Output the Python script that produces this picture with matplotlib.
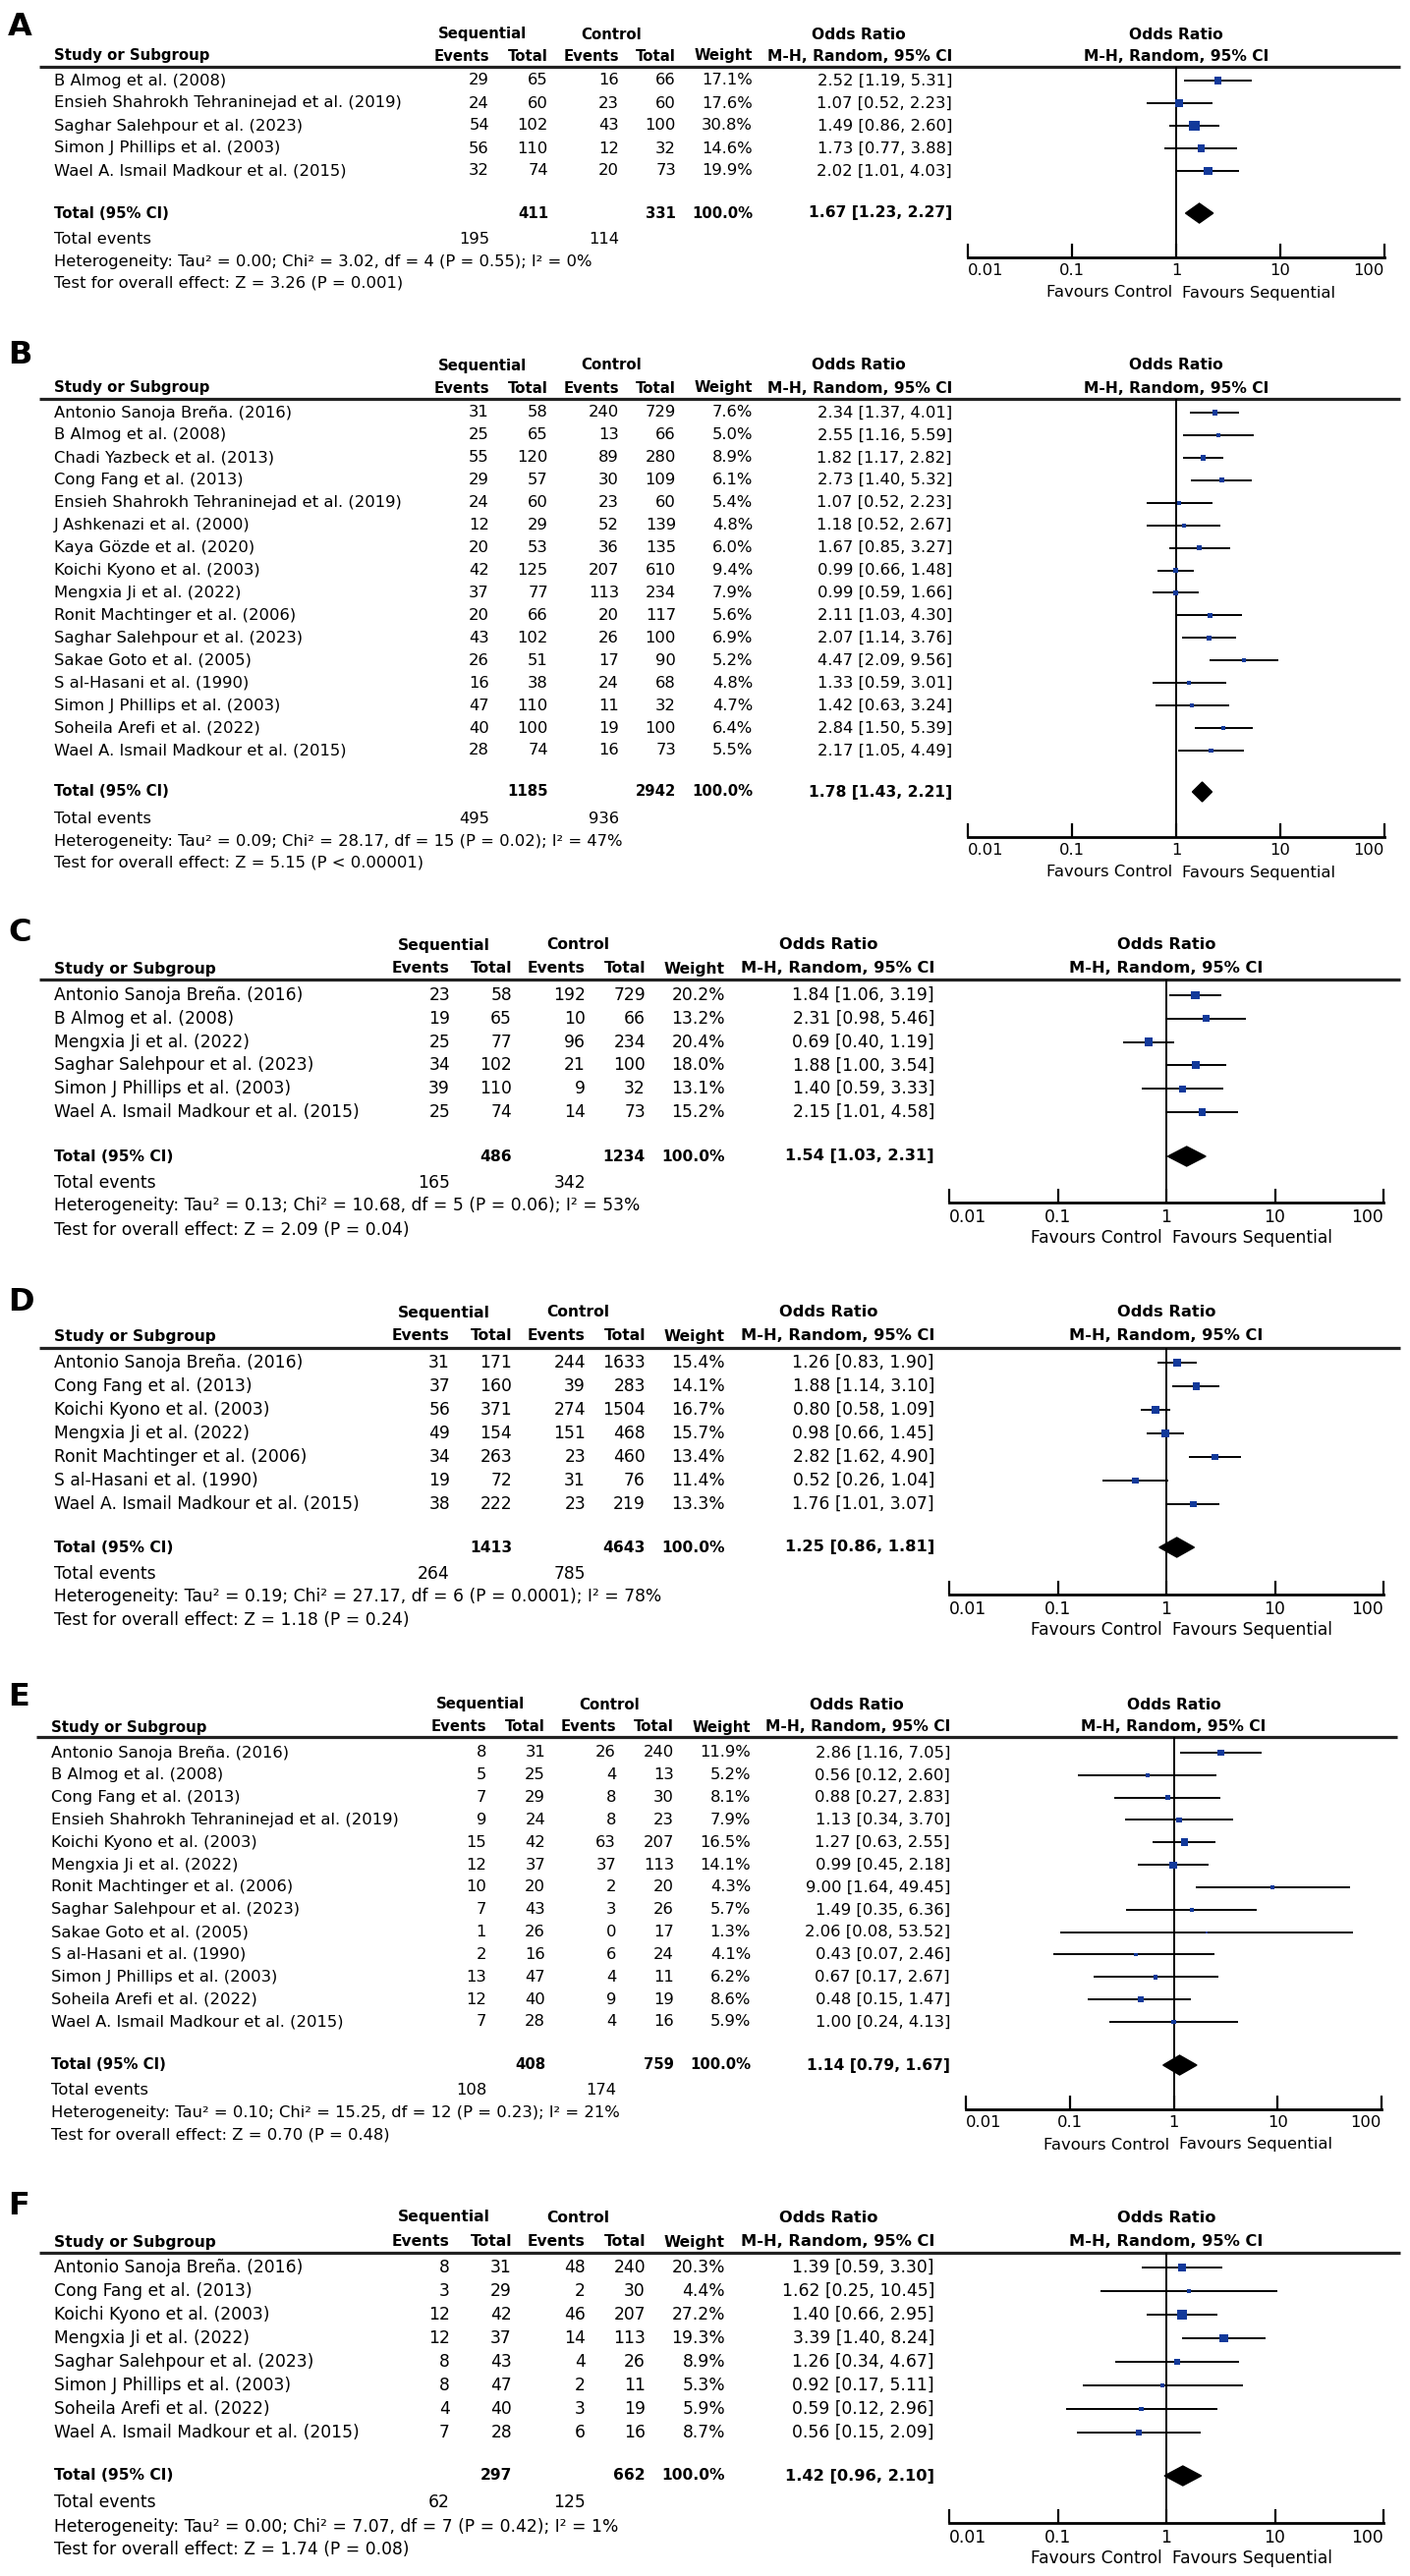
import numpy as np
import matplotlib
matplotlib.use("Agg")
import matplotlib.pyplot as plt
from matplotlib.ticker import NullLocator

W, H = 1435, 2622
BLUE = "#12399a"

# ---------------- data ----------------
A_STUDY = ["B Almog et al. (2008)", "Ensieh Shahrokh Tehraninejad et al. (2019)",
           "Saghar Salehpour et al. (2023)", "Simon J Phillips et al. (2003)",
           "Wael A. Ismail Madkour et al. (2015)"]
A_SEQ_EV = [29, 24, 54, 56, 32]
A_SEQ_N = [65, 60, 102, 110, 74]
A_CTL_EV = [16, 23, 43, 12, 20]
A_CTL_N = [66, 60, 100, 32, 73]
A_WEIGHT = [17.1, 17.6, 30.8, 14.6, 19.9]
A_OR = [2.52, 1.07, 1.49, 1.73, 2.02]
A_LO = [1.19, 0.52, 0.86, 0.77, 1.01]
A_HI = [5.31, 2.23, 2.60, 3.88, 4.03]
A_TOTAL = [411, 331, 1.67, 1.23, 2.27, 195, 114]
A_HET = "Heterogeneity: Tau² = 0.00; Chi² = 3.02, df = 4 (P = 0.55); I² = 0%"
A_TEST = "Test for overall effect: Z = 3.26 (P = 0.001)"

B_STUDY = ["Antonio Sanoja Breña. (2016)", "B Almog et al. (2008)", "Chadi Yazbeck et al. (2013)",
           "Cong Fang et al. (2013)", "Ensieh Shahrokh Tehraninejad et al. (2019)",
           "J Ashkenazi et al. (2000)", "Kaya Gözde et al. (2020)", "Koichi Kyono et al. (2003)",
           "Mengxia Ji et al. (2022)", "Ronit Machtinger et al. (2006)",
           "Saghar Salehpour et al. (2023)", "Sakae Goto et al. (2005)", "S al-Hasani et al. (1990)",
           "Simon J Phillips et al. (2003)", "Soheila Arefi et al. (2022)",
           "Wael A. Ismail Madkour et al. (2015)"]
B_SEQ_EV = [31, 25, 55, 29, 24, 12, 20, 42, 37, 20, 43, 26, 16, 47, 40, 28]
B_SEQ_N = [58, 65, 120, 57, 60, 29, 53, 125, 77, 66, 102, 51, 38, 110, 100, 74]
B_CTL_EV = [240, 13, 89, 30, 23, 52, 36, 207, 113, 20, 26, 17, 24, 11, 19, 16]
B_CTL_N = [729, 66, 280, 109, 60, 139, 135, 610, 234, 117, 100, 90, 68, 32, 100, 73]
B_WEIGHT = [7.6, 5.0, 8.9, 6.1, 5.4, 4.8, 6.0, 9.4, 7.9, 5.6, 6.9, 5.2, 4.8, 4.7, 6.4, 5.5]
B_OR = [2.34, 2.55, 1.82, 2.73, 1.07, 1.18, 1.67, 0.99, 0.99, 2.11, 2.07, 4.47, 1.33, 1.42, 2.84, 2.17]
B_LO = [1.37, 1.16, 1.17, 1.40, 0.52, 0.52, 0.85, 0.66, 0.59, 1.03, 1.14, 2.09, 0.59, 0.63, 1.50, 1.05]
B_HI = [4.01, 5.59, 2.82, 5.32, 2.23, 2.67, 3.27, 1.48, 1.66, 4.30, 3.76, 9.56, 3.01, 3.24, 5.39, 4.49]
B_TOTAL = [1185, 2942, 1.78, 1.43, 2.21, 495, 936]
B_HET = "Heterogeneity: Tau² = 0.09; Chi² = 28.17, df = 15 (P = 0.02); I² = 47%"
B_TEST = "Test for overall effect: Z = 5.15 (P < 0.00001)"

C_STUDY = ["Antonio Sanoja Breña. (2016)", "B Almog et al. (2008)", "Mengxia Ji et al. (2022)",
           "Saghar Salehpour et al. (2023)", "Simon J Phillips et al. (2003)",
           "Wael A. Ismail Madkour et al. (2015)"]
C_SEQ_EV = [23, 19, 25, 34, 39, 25]
C_SEQ_N = [58, 65, 77, 102, 110, 74]
C_CTL_EV = [192, 10, 96, 21, 9, 14]
C_CTL_N = [729, 66, 234, 100, 32, 73]
C_WEIGHT = [20.2, 13.2, 20.4, 18.0, 13.1, 15.2]
C_OR = [1.84, 2.31, 0.69, 1.88, 1.40, 2.15]
C_LO = [1.06, 0.98, 0.40, 1.00, 0.59, 1.01]
C_HI = [3.19, 5.46, 1.19, 3.54, 3.33, 4.58]
C_TOTAL = [486, 1234, 1.54, 1.03, 2.31, 165, 342]
C_HET = "Heterogeneity: Tau² = 0.13; Chi² = 10.68, df = 5 (P = 0.06); I² = 53%"
C_TEST = "Test for overall effect: Z = 2.09 (P = 0.04)"

D_STUDY = ["Antonio Sanoja Breña. (2016)", "Cong Fang et al. (2013)", "Koichi Kyono et al. (2003)",
           "Mengxia Ji et al. (2022)", "Ronit Machtinger et al. (2006)", "S al-Hasani et al. (1990)",
           "Wael A. Ismail Madkour et al. (2015)"]
D_SEQ_EV = [31, 37, 56, 49, 34, 19, 38]
D_SEQ_N = [171, 160, 371, 154, 263, 72, 222]
D_CTL_EV = [244, 39, 274, 151, 23, 31, 23]
D_CTL_N = [1633, 283, 1504, 468, 460, 76, 219]
D_WEIGHT = [15.4, 14.1, 16.7, 15.7, 13.4, 11.4, 13.3]
D_OR = [1.26, 1.88, 0.80, 0.98, 2.82, 0.52, 1.76]
D_LO = [0.83, 1.14, 0.58, 0.66, 1.62, 0.26, 1.01]
D_HI = [1.90, 3.10, 1.09, 1.45, 4.90, 1.04, 3.07]
D_TOTAL = [1413, 4643, 1.25, 0.86, 1.81, 264, 785]
D_HET = "Heterogeneity: Tau² = 0.19; Chi² = 27.17, df = 6 (P = 0.0001); I² = 78%"
D_TEST = "Test for overall effect: Z = 1.18 (P = 0.24)"

E_STUDY = ["Antonio Sanoja Breña. (2016)", "B Almog et al. (2008)", "Cong Fang et al. (2013)",
           "Ensieh Shahrokh Tehraninejad et al. (2019)", "Koichi Kyono et al. (2003)",
           "Mengxia Ji et al. (2022)", "Ronit Machtinger et al. (2006)",
           "Saghar Salehpour et al. (2023)", "Sakae Goto et al. (2005)", "S al-Hasani et al. (1990)",
           "Simon J Phillips et al. (2003)", "Soheila Arefi et al. (2022)",
           "Wael A. Ismail Madkour et al. (2015)"]
E_SEQ_EV = [8, 5, 7, 9, 15, 12, 10, 7, 1, 2, 13, 12, 7]
E_SEQ_N = [31, 25, 29, 24, 42, 37, 20, 43, 26, 16, 47, 40, 28]
E_CTL_EV = [26, 4, 8, 8, 63, 37, 2, 3, 0, 6, 4, 9, 4]
E_CTL_N = [240, 13, 30, 23, 207, 113, 20, 26, 17, 24, 11, 19, 16]
E_WEIGHT = [11.9, 5.2, 8.1, 7.9, 16.5, 14.1, 4.3, 5.7, 1.3, 4.1, 6.2, 8.6, 5.9]
E_OR = [2.86, 0.56, 0.88, 1.13, 1.27, 0.99, 9.00, 1.49, 2.06, 0.43, 0.67, 0.48, 1.00]
E_LO = [1.16, 0.12, 0.27, 0.34, 0.63, 0.45, 1.64, 0.35, 0.08, 0.07, 0.17, 0.15, 0.24]
E_HI = [7.05, 2.60, 2.83, 3.70, 2.55, 2.18, 49.45, 6.36, 53.52, 2.46, 2.67, 1.47, 4.13]
E_TOTAL = [408, 759, 1.14, 0.79, 1.67, 108, 174]
E_HET = "Heterogeneity: Tau² = 0.10; Chi² = 15.25, df = 12 (P = 0.23); I² = 21%"
E_TEST = "Test for overall effect: Z = 0.70 (P = 0.48)"

F_STUDY = ["Antonio Sanoja Breña. (2016)", "Cong Fang et al. (2013)", "Koichi Kyono et al. (2003)",
           "Mengxia Ji et al. (2022)", "Saghar Salehpour et al. (2023)",
           "Simon J Phillips et al. (2003)", "Soheila Arefi et al. (2022)",
           "Wael A. Ismail Madkour et al. (2015)"]
F_SEQ_EV = [8, 3, 12, 12, 8, 8, 4, 7]
F_SEQ_N = [31, 29, 42, 37, 43, 47, 40, 28]
F_CTL_EV = [48, 2, 46, 14, 4, 2, 3, 6]
F_CTL_N = [240, 30, 207, 113, 26, 11, 19, 16]
F_WEIGHT = [20.3, 4.4, 27.2, 19.3, 8.9, 5.3, 5.9, 8.7]
F_OR = [1.39, 1.62, 1.40, 3.39, 1.26, 0.92, 0.59, 0.56]
F_LO = [0.59, 0.25, 0.66, 1.40, 0.34, 0.17, 0.12, 0.15]
F_HI = [3.30, 10.45, 2.95, 8.24, 4.67, 5.11, 2.96, 2.09]
F_TOTAL = [297, 662, 1.42, 0.96, 2.10, 62, 125]
F_HET = "Heterogeneity: Tau² = 0.00; Chi² = 7.07, df = 7 (P = 0.42); I² = 1%"
F_TEST = "Test for overall effect: Z = 1.74 (P = 0.08)"

TICKS = [0.01, 0.1, 1, 10, 100]
TICK_LABELS = ["0.01", "0.1", "1", "10", "100"]

# ---------------- layout (pixels) ----------------
COLS_AB = dict(study=55, seq_ev=498, seq_n=558, ctl_ev=630, ctl_n=688, w=766, or_r=969,
               seq_hdr=491, ctl_hdr=622, or_hdr=874, fx=(985, 1409), line=(40, 1425))
COLS_E = dict(study=52, seq_ev=495, seq_n=555, ctl_ev=627, ctl_n=686, w=764, or_r=967,
              seq_hdr=489, ctl_hdr=620, or_hdr=872, fx=(983, 1406), line=(37, 1422))
COLS_CDF = dict(study=55, seq_ev=458, seq_n=521, ctl_ev=596, ctl_n=657, w=738, or_r=951,
                seq_hdr=452, ctl_hdr=588, or_hdr=843, fx=(966, 1408), line=(40, 1425))


def rows(label, h1, h2, line, r0, rs, tot, tev, het, test, axis, fs):
    return dict(label=label, h1=h1, h2=h2, line=line, r0=r0, rs=rs, tot=tot, tev=tev,
                het=het, test=test, axis=axis, fs=fs)


PANELS = [
    ("A", COLS_AB, rows(27, 35, 57, 68, 82, 23.0, 217, 243, 266, 288, 262, 11.8),
     A_STUDY, A_SEQ_EV, A_SEQ_N, A_CTL_EV, A_CTL_N, A_WEIGHT, A_OR, A_LO, A_HI, A_TOTAL, A_HET, A_TEST),
    ("B", COLS_AB, rows(361, 372, 395, 406, 420, 22.93, 806, 833, 856, 878, 852, 11.8),
     B_STUDY, B_SEQ_EV, B_SEQ_N, B_CTL_EV, B_CTL_N, B_WEIGHT, B_OR, B_LO, B_HI, B_TOTAL, B_HET, B_TEST),
    ("C", COLS_CDF, rows(950, 962, 986, 997, 1013, 23.8, 1177, 1204, 1227, 1252, 1224, 12.3),
     C_STUDY, C_SEQ_EV, C_SEQ_N, C_CTL_EV, C_CTL_N, C_WEIGHT, C_OR, C_LO, C_HI, C_TOTAL, C_HET, C_TEST),
    ("D", COLS_CDF, rows(1325, 1336, 1360, 1372, 1387, 24.0, 1575, 1602, 1625, 1649, 1623, 12.3),
     D_STUDY, D_SEQ_EV, D_SEQ_N, D_CTL_EV, D_CTL_N, D_WEIGHT, D_OR, D_LO, D_HI, D_TOTAL, D_HET, D_TEST),
    ("E", COLS_E, rows(1728, 1735, 1758, 1768, 1784, 22.83, 2102, 2128, 2151, 2173, 2147, 11.8),
     E_STUDY, E_SEQ_EV, E_SEQ_N, E_CTL_EV, E_CTL_N, E_WEIGHT, E_OR, E_LO, E_HI, E_TOTAL, E_HET, E_TEST),
    ("F", COLS_CDF, rows(2246, 2257, 2282, 2293, 2308, 24.0, 2520, 2547, 2572, 2595, 2568, 12.3),
     F_STUDY, F_SEQ_EV, F_SEQ_N, F_CTL_EV, F_CTL_N, F_WEIGHT, F_OR, F_LO, F_HI, F_TOTAL, F_HET, F_TEST),
]


def draw_panel(fig, cv, letter, c, r, study, sev, sn, cev, cn, wt, orr, lo, hi, tot, het, test):
    fs = r["fs"]
    kw = dict(fontsize=fs, va="center")
    # bold text in the reference is set narrower than the body text
    kb = dict(fontsize=fs - 1.1, va="center", fontweight="bold")
    ko = dict(fontsize=fs - 0.6, va="center", fontweight="bold")

    cv.text(8, r["label"], letter, fontsize=23, fontweight="bold", va="center", ha="left")

    # header rows
    cv.text(c["seq_hdr"], r["h1"], "Sequential", ha="center", **kb)
    cv.text(c["ctl_hdr"], r["h1"], "Control", ha="center", **kb)
    cv.text(c["or_hdr"], r["h1"], "Odds Ratio", ha="center", **ko)
    x0, x1 = c["fx"]
    xone = (x0 + x1) / 2
    cv.text(xone, r["h1"], "Odds Ratio", ha="center", **ko)
    cv.text(c["study"], r["h2"], "Study or Subgroup", ha="left", **kb)
    for key, name in [("seq_ev", "Events"), ("seq_n", "Total"), ("ctl_ev", "Events"),
                      ("ctl_n", "Total"), ("w", "Weight")]:
        cv.text(c[key], r["h2"], name, ha="right", **kb)
    cv.text(c["or_r"], r["h2"], "M-H, Random, 95% CI", ha="right", **ko)
    cv.text(xone, r["h2"], "M-H, Random, 95% CI", ha="center", **ko)
    cv.plot(c["line"], [r["line"], r["line"]], color="#222222", lw=2.3, solid_capstyle="butt")

    # study rows
    ys = r["r0"] + np.arange(len(study)) * r["rs"]
    for i, y in enumerate(ys):
        cv.text(c["study"], y, study[i], ha="left", **kw)
        cv.text(c["seq_ev"], y, str(sev[i]), ha="right", **kw)
        cv.text(c["seq_n"], y, str(sn[i]), ha="right", **kw)
        cv.text(c["ctl_ev"], y, str(cev[i]), ha="right", **kw)
        cv.text(c["ctl_n"], y, str(cn[i]), ha="right", **kw)
        cv.text(c["w"], y, f"{wt[i]:.1f}%", ha="right", **kw)
        cv.text(c["or_r"], y, f"{orr[i]:.2f} [{lo[i]:.2f}, {hi[i]:.2f}]", ha="right", **kw)

    # totals
    t_sn, t_cn, t_or, t_lo, t_hi, t_sev, t_cev = tot
    cv.text(c["study"], r["tot"], "Total (95% CI)", ha="left", **kb)
    cv.text(c["seq_n"], r["tot"], str(t_sn), ha="right", **kb)
    cv.text(c["ctl_n"], r["tot"], str(t_cn), ha="right", **kb)
    cv.text(c["w"], r["tot"], "100.0%", ha="right", **kb)
    cv.text(c["or_r"], r["tot"], f"{t_or:.2f} [{t_lo:.2f}, {t_hi:.2f}]", ha="right", **ko)
    cv.text(c["study"], r["tev"], "Total events", ha="left", **kw)
    cv.text(c["seq_ev"], r["tev"], str(t_sev), ha="right", **kw)
    cv.text(c["ctl_ev"], r["tev"], str(t_cev), ha="right", **kw)
    cv.text(c["study"], r["het"], het, ha="left", **kw)
    cv.text(c["study"], r["test"], test, ha="left", **kw)

    # forest plot axes, y in pixel units
    ax = fig.add_axes([x0 / W, 1 - r["axis"] / H, (x1 - x0) / W, (r["axis"] - r["line"]) / H])
    ax.set_xscale("log")
    ax.set_xlim(0.01, 100)
    ax.set_ylim(r["axis"], r["line"])
    ax.patch.set_alpha(0)
    for s in ["top", "left", "right"]:
        ax.spines[s].set_visible(False)
    ax.spines["bottom"].set_linewidth(2)
    ax.set_yticks([])
    ax.set_xticks(TICKS)
    ax.set_xticklabels(TICK_LABELS)
    ax.xaxis.set_minor_locator(NullLocator())
    ax.tick_params(axis="x", direction="in", length=10, width=1.6, labelsize=fs, pad=4)
    labs = ax.get_xticklabels()
    labs[0].set_horizontalalignment("left")
    labs[-1].set_horizontalalignment("right")

    ax.axvline(1, color="black", lw=1.4)
    ax.hlines(ys, lo, hi, color="black", lw=1.4)
    side = 1.9 * np.sqrt(np.array(wt)) * 0.72
    ax.scatter(orr, ys, marker="s", s=side ** 2, color=BLUE, linewidths=0, zorder=3)
    ty = r["tot"]
    ax.fill([t_lo, t_or, t_hi, t_or], [ty, ty - 10, ty, ty + 10], color="black", zorder=3)

    cv.text(xone - 4, r["axis"] + 36, "Favours Control", ha="right", fontsize=fs, va="center")
    cv.text(xone + 6, r["axis"] + 36, "Favours Sequential", ha="left", fontsize=fs, va="center")


fig = plt.figure(figsize=(W / 100, H / 100), dpi=100)
canvas = fig.add_axes([0, 0, 1, 1])
canvas.set_xlim(0, W)
canvas.set_ylim(H, 0)
canvas.axis("off")

for p in PANELS:
    draw_panel(fig, canvas, *p)

fig.savefig("out.png", dpi=100)
